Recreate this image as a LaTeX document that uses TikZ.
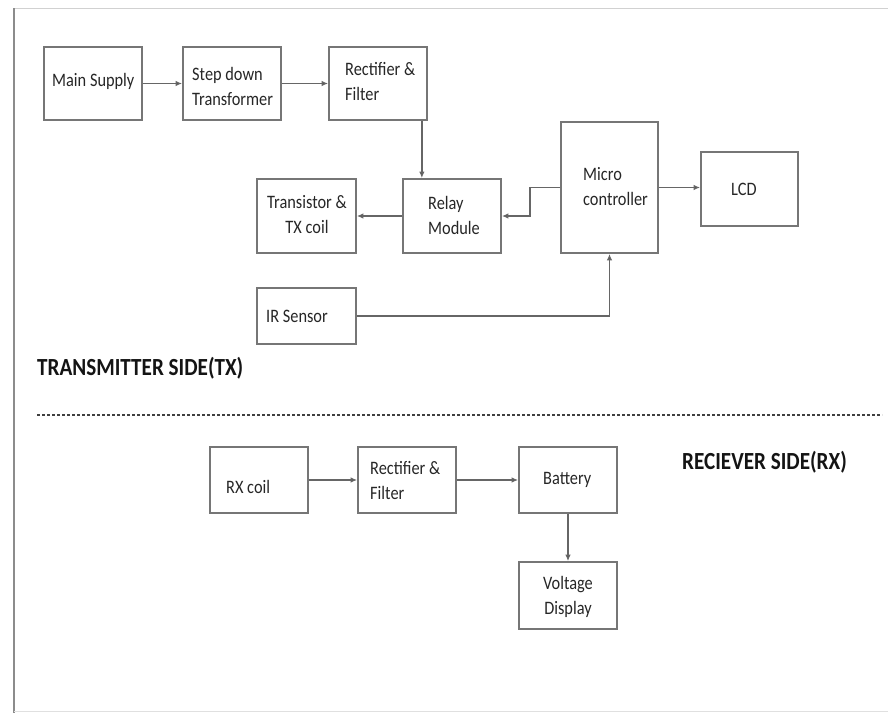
\documentclass[tikz,border=0pt]{standalone}
\usepackage{fontspec}
\setmainfont{Carlito}[FakeStretch=0.86]
\usetikzlibrary{arrows.meta}
\definecolor{boxline}{HTML}{767676}
\definecolor{wire}{HTML}{666666}
\definecolor{txtc}{HTML}{262626}
\tikzset{
  blk/.style={draw=boxline, line width=1.7pt, rectangle, inner sep=0pt},
  txt/.style={text=txtc, font=\fontsize{19}{25}\selectfont, inner sep=0pt, anchor=west},
  ctxt/.style={text=txtc, font=\fontsize{19}{25}\selectfont, inner sep=0pt, align=center},
  hdr/.style={text=black!92, font=\fontsize{24.6}{28}\selectfont\bfseries, inner sep=0pt, anchor=west},
  arr/.style={draw=wire, line width=1.4pt, -{Latex[length=6.5pt,width=5.5pt,fill=black!85]}},
}
\newcommand{\bx}[5]{\node[blk, minimum width={#4-#2}, minimum height={#5-#3}] (#1) at ({(#2+#4)/2},{(#3+#5)/2}) {};}
\begin{document}
\begin{tikzpicture}[x=1pt,y=-1pt]
\useasboundingbox (0,0) rectangle (888,713);
% frame
\draw[black!18, line width=1pt] (14,8.5) -- (888,8.5);
\draw[black!45, line width=2pt] (14,8) -- (14,713);
\draw[black!12, line width=1pt] (14,711) -- (888,711);
% transmitter boxes
\bx{ms}{44}{47}{142}{120}
\bx{sd}{183}{47}{281}{120}
\bx{rf}{329}{47}{427}{120}
\bx{tr}{257}{179}{356}{253}
\bx{rl}{403}{179}{501}{253}
\bx{mc}{561}{122}{658}{253}
\bx{lcd}{701}{152}{798}{226}
\bx{ir}{257}{288}{356}{344}
% receiver boxes
\bx{rx}{210}{447}{308}{513}
\bx{rf2}{358}{447}{456}{513}
\bx{bat}{519}{447}{617}{513}
\bx{vd}{519}{562}{617}{629}
% texts
\node[txt] (tms) at (52,81) {Main Supply};
\node[txt, align=left] (tsd) at (192,86) {Step down\\Transformer};
\node[txt, align=left] (trf) at (345,81) {Rectifier \&\\Filter};
\node[ctxt] (ttr) at (307,215) {Transistor \&\\TX coil};
\node[txt, align=left] (trl) at (428,215) {Relay\\Module};
\node[txt, align=left] (tmc) at (583,187) {Micro\\controller};
\node[txt] (tlcd) at (731,189) {LCD};
\node[txt] (tir) at (266,316) {IR Sensor};
\node[txt] (trx) at (226,487) {RX coil};
\node[txt, align=left] (trf2) at (370,480) {Rectifier \&\\Filter};
\node[txt] (tbat) at (543,480) {Battery};
\node[ctxt] (tvd) at (568,597) {Voltage\\Display};
% headers
\node[hdr] (htx) at (37,368) {TRANSMITTER SIDE(TX)};
\node[hdr] (hrx) at (682,462) {RECIEVER SIDE(RX)};
% divider
\coordinate (dl) at (37,415);
\coordinate (dr) at (882,415);
\draw[black!75, line width=1.2pt, dash pattern=on 3pt off 2pt] (dl) -- (dr);
% connectors transmitter
\draw[arr] (ms.east) -- (sd.west);
\draw[arr] (sd.east) -- (rf.west);
\draw[arr] ([xshift=-6pt]rf.south east) -- ([xshift=-6pt]rf.south east |- rl.north);
\draw[arr] (rl.west) -- (tr.east);
\draw[arr] (mc.west) -- ++(-30,0) |- (rl.east);
\draw[arr] (mc.east) -- (mc.east -| lcd.west);
\draw[arr] (ir.east) -| (mc.south);
% connectors receiver
\draw[arr] (rx.east) -- (rf2.west);
\draw[arr] (rf2.east) -- (bat.west);
\draw[arr] (bat.south) -- (vd.north);
\end{tikzpicture}
\end{document}
